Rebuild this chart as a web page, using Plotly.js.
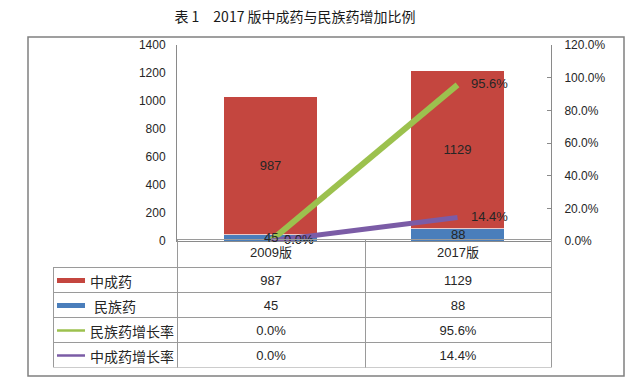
<!DOCTYPE html>
<html>
<head>
<meta charset="utf-8">
<script src="https://cdn.plot.ly/plotly-3.0.1.min.js"></script>
<style>html,body{margin:0;padding:0;background:#fff;}#chart{width:640px;height:384px;}</style>
</head>
<body>
<div id="chart"></div>
<script>
// ---- data ----
const categories = ['2009版', '2017版'];
const zcyCount = [987, 1129];          // 中成药
const mzyCount = [45, 88];             // 民族药
const mzyRate = [0.0, 0.956];          // 民族药增长率
const zcyRate = [0.0, 0.144];          // 中成药增长率
const seriesNames = ['中成药', '民族药', '民族药增长率', '中成药增长率'];
const titleText = '表 1　2017 版中成药与民族药增加比例';

// ---- styles ----
const RED = '#c4463f', BLUE = '#4a7ebb', GREEN = '#9cc14e', PURPLE = '#7b5ca6';
const AXIS = '#8a8a8a', GRIDC = '#9a9a9a', TXT = '#262626';
const FONT = 'Liberation Sans, Noto Sans CJK SC, sans-serif';
const CJK = 'Noto Sans CJK SC, sans-serif';

// pixel helpers for a 640x384 canvas with plot area 53..551 x 45..368
const L = 53, R = 89, T = 45, B = 16, PW = 640 - L - R, PH = 384 - T - B;
const px = p => (p - L) / PW;
const py = p => (384 - B - p) / PH;

const pct = v => (v * 100).toFixed(1) + '%';

const traces = [
  {
    type: 'bar', name: seriesNames[1], x: categories, y: mzyCount,
    marker: {color: BLUE, line: {color: 'rgba(255,255,255,0.7)', width: 1}},
    width: 0.5, textposition: 'none', hoverinfo: 'none'
  },
  {
    type: 'bar', name: seriesNames[0], x: categories, y: zcyCount,
    marker: {color: RED, line: {color: 'rgba(255,255,255,0.7)', width: 1}},
    width: 0.5, text: zcyCount.map(String), textposition: 'inside',
    insidetextanchor: 'middle', constraintext: 'none', textangle: 0,
    textfont: {family: FONT, size: 13, color: TXT}, hoverinfo: 'none'
  },
  {
    type: 'scatter', name: seriesNames[2], x: categories, y: mzyRate, yaxis: 'y2',
    mode: 'lines+markers+text', line: {color: GREEN, width: 6},
    marker: {size: 20, opacity: 0}, text: mzyRate.map(pct), textposition: 'middle right',
    textfont: {family: FONT, size: 13, color: TXT}, hoverinfo: 'none', cliponaxis: false
  },
  {
    type: 'scatter', name: seriesNames[3], x: categories, y: zcyRate, yaxis: 'y2',
    mode: 'lines+markers+text', line: {color: PURPLE, width: 5},
    marker: {size: 20, opacity: 0}, text: zcyRate.map(pct), textposition: 'middle right',
    textfont: {family: FONT, size: 13, color: TXT}, hoverinfo: 'none', cliponaxis: false
  },
  {
    type: 'table',
    domain: {x: [0, 1], y: [0, py(239.5)]},
    columnwidth: [124, 188, 186],
    header: {
      values: [[''], [categories[0]], [categories[1]]],
      height: 28, align: 'center',
      line: {color: ['rgba(0,0,0,0)', GRIDC, GRIDC], width: 1},
      fill: {color: 'rgba(0,0,0,0)'},
      font: {family: FONT, size: 13, color: TXT}
    },
    cells: {
      values: [
        seriesNames.map(() => ''),
        [String(zcyCount[0]), String(mzyCount[0]), pct(mzyRate[0]), pct(zcyRate[0])],
        [String(zcyCount[1]), String(mzyCount[1]), pct(mzyRate[1]), pct(zcyRate[1])]
      ],
      height: 25, align: 'center',
      line: {color: GRIDC, width: 1},
      fill: {color: 'rgba(0,0,0,0)'},
      font: {family: FONT, size: 13, color: TXT}
    }
  }
];

// legend-key column of the data table
const rowCenters = [280.5, 305.5, 330.5, 355.5];
const swColors = [RED, BLUE, GREEN, PURPLE];
const swHeights = [5, 5, 2.5, 2.5];
const shapes = [
  {type: 'rect', xref: 'paper', yref: 'paper', x0: px(28), x1: px(624), y0: py(376), y1: py(37),
   line: {color: '#808080', width: 1.5}, fillcolor: 'rgba(0,0,0,0)'}
];
const annotations = [];
seriesNames.forEach((n, i) => {
  shapes.push({type: 'rect', xref: 'paper', yref: 'paper', x0: px(57), x1: px(85),
    y0: py(rowCenters[i] + swHeights[i] / 2), y1: py(rowCenters[i] - swHeights[i] / 2),
    line: {width: 0}, fillcolor: swColors[i]});
  annotations.push({xref: 'paper', yref: 'paper', x: px(i === 1 ? 92 : 88), y: py(rowCenters[i]),
    xanchor: 'left', yanchor: 'middle', showarrow: false, text: n,
    font: {family: CJK, size: 14, color: TXT}});
});
// 民族药 bar value labels (kept above the lines, as in the reference)
categories.forEach((c, i) => {
  annotations.push({xref: 'x', yref: 'y', x: c, y: mzyCount[i] / 2, text: String(mzyCount[i]),
    showarrow: false, xanchor: 'center', yanchor: 'middle',
    font: {family: FONT, size: 13, color: TXT}});
});

const layout = {
  width: 640, height: 384,
  margin: {l: L, r: R, t: T, b: B, pad: 0},
  paper_bgcolor: '#ffffff', plot_bgcolor: 'rgba(0,0,0,0)',
  showlegend: false, barmode: 'stack',
  font: {family: FONT, size: 12, color: TXT},
  title: {text: titleText, x: 295 / 640, xanchor: 'center', xref: 'container',
          y: 1 - 17 / 384, yanchor: 'middle', yref: 'container',
          font: {family: CJK, size: 14, color: '#1a1a1a'}},
  xaxis: {domain: [px(177), 1], type: 'category', range: [-0.5, 1.5],
          showline: true, linecolor: AXIS, linewidth: 1, showticklabels: false,
          ticks: '', showgrid: false, zeroline: false, fixedrange: true},
  yaxis: {domain: [py(241), 1], range: [0, 1400], dtick: 200, showgrid: false,
          zeroline: false, showline: true, linecolor: AXIS, ticks: '',
          ticklabelstandoff: 8, tickfont: {family: FONT, size: 12, color: TXT}},
  yaxis2: {overlaying: 'y', side: 'right', anchor: 'x', range: [0, 1.2], dtick: 0.2,
           tickformat: '.1%', showgrid: false, zeroline: false, showline: true,
           linecolor: AXIS, ticks: 'inside', ticklen: 4, tickcolor: AXIS,
           ticklabelstandoff: 10, tickfont: {family: FONT, size: 12, color: TXT}},
  shapes: shapes,
  annotations: annotations
};

Plotly.newPlot('chart', traces, layout, {staticPlot: true, displayModeBar: false});
</script>
</body>
</html>
